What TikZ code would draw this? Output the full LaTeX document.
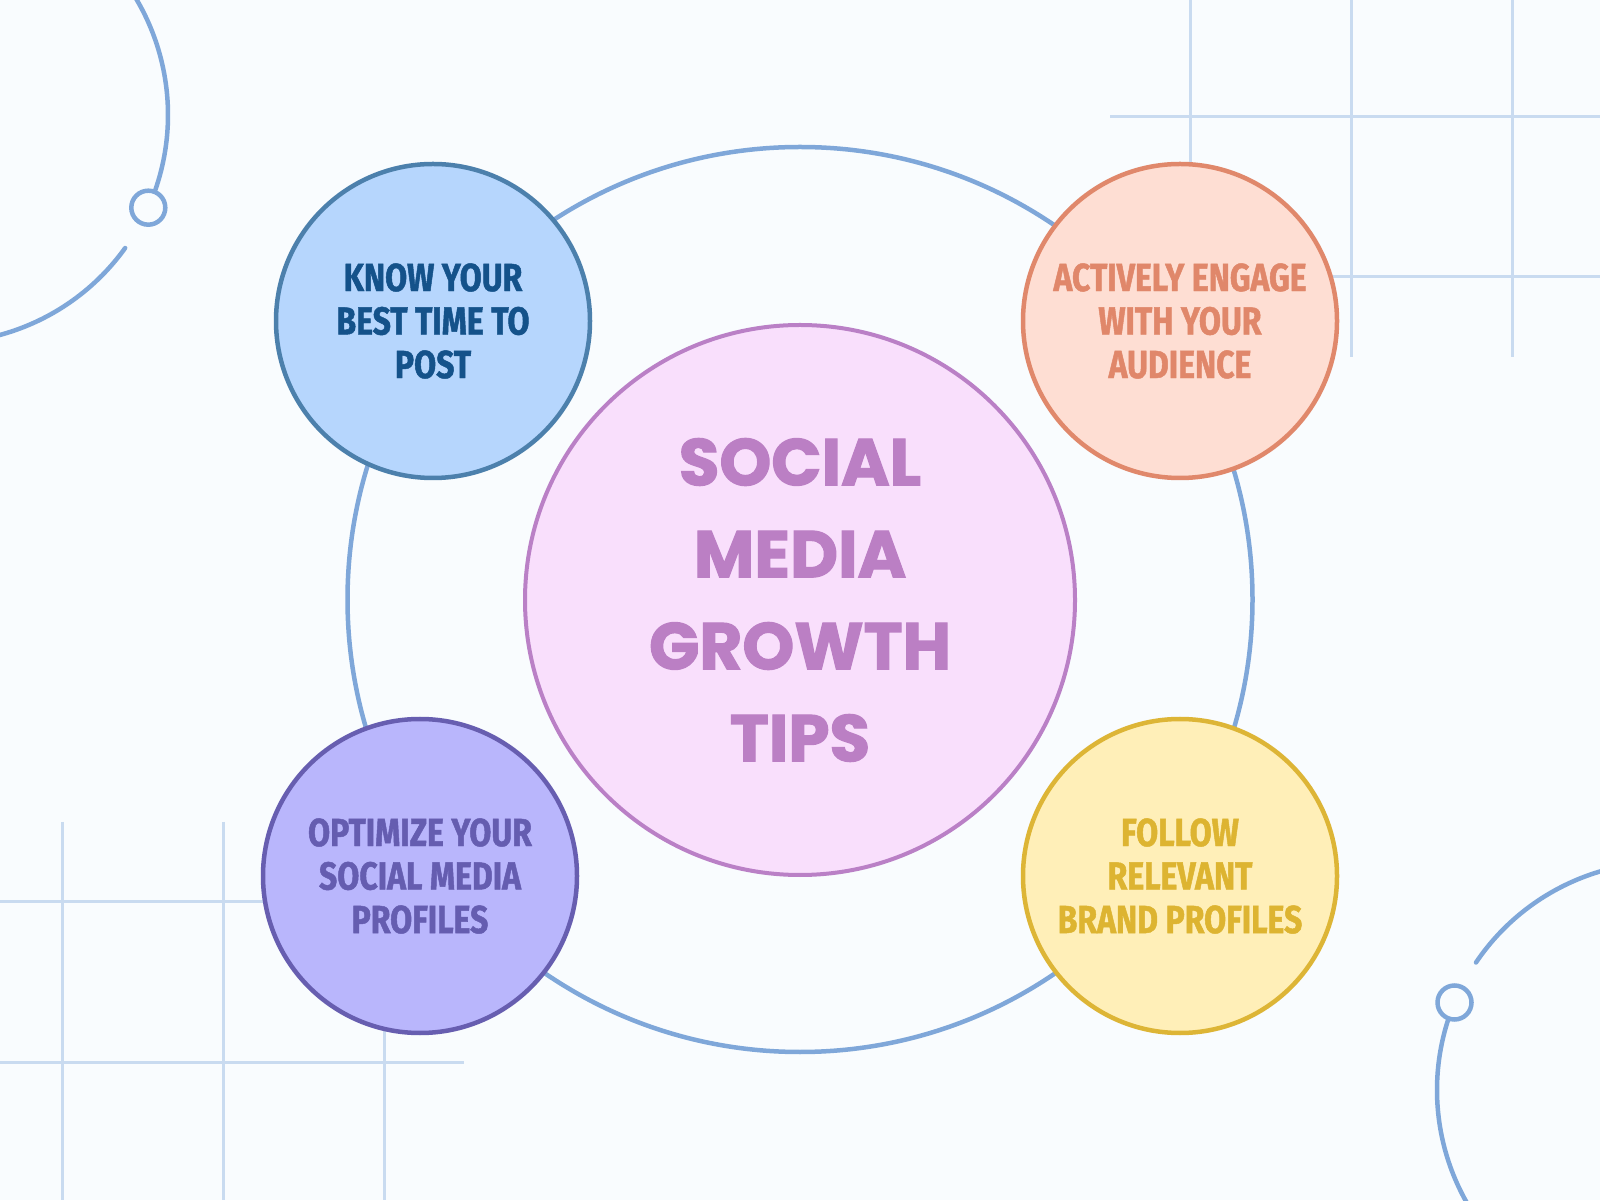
\documentclass[tikz,border=0pt]{standalone}
\usepackage{fontspec}
\newfontfamily\tipfont[FakeStretch=0.82, BoldFeatures={FakeBold=1.2}]{Fira Sans}
\newfontfamily\titlefont[BoldFeatures={FakeBold=1.8}]{Poppins}
\definecolor{bgc}{HTML}{F9FCFE}
\definecolor{gridc}{HTML}{C9DBF0}
\definecolor{ringc}{HTML}{7FA7D9}
\definecolor{tlfill}{HTML}{B6D6FD}
\definecolor{tldraw}{HTML}{4C80AC}
\definecolor{tltext}{HTML}{14528A}
\definecolor{trfill}{HTML}{FEDED3}
\definecolor{trdraw}{HTML}{E0886B}
\definecolor{trtext}{HTML}{E0876A}
\definecolor{blfill}{HTML}{B9B6FC}
\definecolor{bldraw}{HTML}{675EB0}
\definecolor{bltext}{HTML}{655DB0}
\definecolor{brfill}{HTML}{FFEFB8}
\definecolor{brdraw}{HTML}{DDB536}
\definecolor{brtext}{HTML}{DDB431}
\definecolor{hubfill}{HTML}{F9DFFC}
\definecolor{hubdraw}{HTML}{BA80C6}
\definecolor{hubtext}{HTML}{BB7FC4}
\tikzset{
  gridline/.style={draw=gridc, line width=3pt},
  ringline/.style={draw=ringc, line width=4.5pt},
  decoline/.style={draw=ringc, line width=4.5pt, line cap=round},
  decodot/.style={circle, draw=ringc, fill=bgc, line width=4.5pt, minimum size=34pt, inner sep=0pt},
  tip/.style={circle, line width=4.5pt, minimum size=314pt, inner sep=0pt, align=center,
    font=\tipfont\bfseries\fontsize{39}{43.5}\selectfont},
  hub/.style={circle, line width=4pt, minimum size=550pt, inner sep=0pt, align=center,
    font=\titlefont\bfseries\fontsize{66}{92}\selectfont}
}
\begin{document}
\begin{tikzpicture}[x=1pt,y=1pt]
\fill[bgc] (0,0) rectangle (1600,1200);
\useasboundingbox (0,0) rectangle (1600,1200);
\clip (0,0) rectangle (1600,1200);
% top-right grid
\foreach \gx in {1190,1351,1512} \draw[gridline] (\gx,1200) -- (\gx,843);
\foreach \gy in {1083,923} \draw[gridline] (1110,\gy) -- (1600,\gy);
% bottom-left grid
\foreach \gx in {62,223,384} \draw[gridline] (\gx,378) -- (\gx,0);
\foreach \gy in {299,138} \draw[gridline] (0,\gy) -- (464,\gy);
% decorative arcs
\draw[decoline] (-60,1085) ++(45:228) arc[start angle=45, end angle=-19.7, radius=228];
\draw[decoline] (-60,1085) ++(-35.7:228) arc[start angle=-35.7, end angle=-115, radius=228];
\node[decodot] (dotA) at (148.3,992.3) {};
\draw[decoline] (1665,110) ++(146:228) arc[start angle=146, end angle=85, radius=228];
\draw[decoline] (1665,110) ++(161.7:228) arc[start angle=161.7, end angle=235, radius=228];
\node[decodot] (dotB) at (1454.5,197.5) {};
% ring
\draw[ringline] (800,600.5) circle[radius=452.5];
% hub
\node[hub, fill=hubfill, draw=hubdraw, text=hubtext] (hubnode) at (800,600) {SOCIAL\\MEDIA\\GROWTH\\TIPS};
% tips
\node[tip, fill=tlfill, draw=tldraw, text=tltext] (tipA) at (433,879) {KNOW YOUR\\BEST TIME TO\\POST};
\node[tip, fill=trfill, draw=trdraw, text=trtext] (tipB) at (1180,879) {ACTIVELY ENGAGE\\WITH YOUR\\AUDIENCE};
\node[tip, fill=blfill, draw=bldraw, text=bltext] (tipC) at (420,324) {OPTIMIZE YOUR\\SOCIAL MEDIA\\PROFILES};
\node[tip, fill=brfill, draw=brdraw, text=brtext] (tipD) at (1180,324) {FOLLOW\\RELEVANT\\BRAND PROFILES};
\end{tikzpicture}
\end{document}
